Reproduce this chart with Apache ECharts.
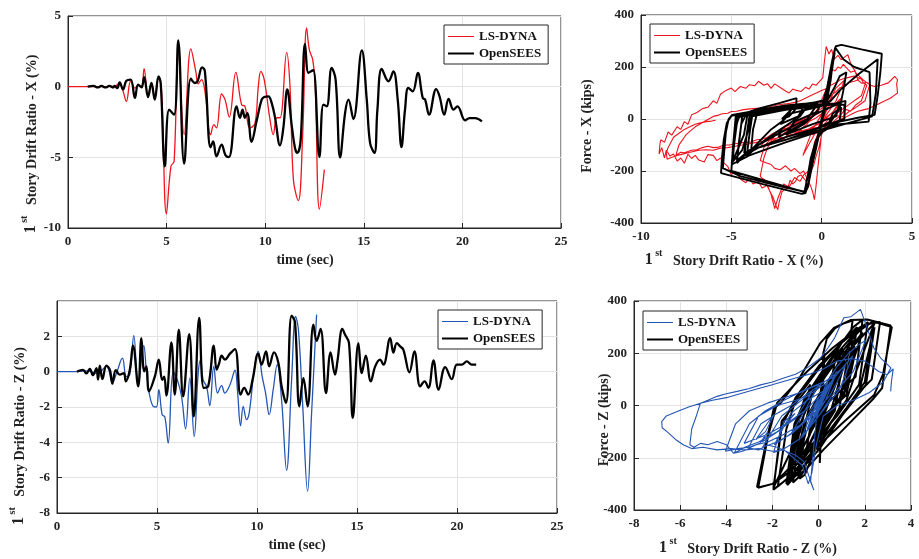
<!DOCTYPE html>
<html><head><meta charset="utf-8">
<script src="https://cdn.jsdelivr.net/npm/echarts@6/dist/echarts.min.js"></script>
<style>html,body{margin:0;padding:0;background:#fff}#c{width:919px;height:559px}</style>
</head><body><div id="c"></div>
<script>
// ---------- DATA ----------
const seriesNames = ['LS-DYNA', 'OpenSEES'];
const timeTicks = [0, 5, 10, 15, 20, 25];

// Panel 1: drift X (%) vs time (s)
const lsDynaDriftX = [[0,0],[1,0],[2,0],[2.4,0.05],[2.62,0.25],[2.79,-0.3],[2.96,-1.04],[3.18,0.4],[3.39,-0.1],[3.56,0.1],[3.73,0.0],[3.86,1.27],[4.06,-0.68],[4.23,0.26],[4.4,-0.85],[4.59,0.68],[4.74,-0.2],[4.99,-9.0],[5.22,-5.64],[5.38,-5.28],[5.59,2.5],[5.89,-3.4],[6.23,2.67],[6.48,1.08],[6.6,0.2],[6.77,0.5],[6.94,-0.3],[7.23,-3.4],[7.4,-2.69],[7.53,-2.92],[7.79,-0.52],[7.96,-0.9],[8.18,-2.15],[8.51,1.01],[8.8,-1.27],[8.97,-1.39],[9.22,-2.92],[9.48,-2.6],[9.65,0.0],[9.78,1.08],[9.95,0.5],[10.24,-2.3],[10.41,-3.4],[10.58,-2.2],[10.75,-2.2],[11.09,2.43],[11.26,-0.05],[11.43,-6.58],[11.68,-8.07],[11.9,-3.4],[12.1,4.15],[12.24,2.6],[12.41,1.91],[12.53,0.3],[12.75,-8.66],[13.0,-5.87]];
const openSeesDriftX = [[1,0],[1.3,0.05],[1.5,-0.05],[1.7,0.05],[1.9,-0.05],[2.1,0.05],[2.3,-0.05],[2.37,0.05],[2.5,-0.1],[2.62,0.3],[2.79,-0.2],[2.96,0.42],[3.18,0.5],[3.39,-0.8],[3.56,0.14],[3.73,-0.05],[3.86,0.68],[4.06,-0.73],[4.23,0.26],[4.4,-0.92],[4.59,0.73],[4.7,0.26],[4.91,-5.64],[5.13,-1.63],[5.38,-1.98],[5.59,3.28],[5.89,-5.45],[6.23,0.57],[6.43,0.26],[6.57,0.38],[6.8,1.37],[6.94,1.1],[7.23,-4.29],[7.36,-3.87],[7.53,-4.93],[7.79,-4.1],[7.99,-4.86],[8.16,-4.98],[8.55,-1.39],[8.72,-2.2],[8.85,-1.63],[8.97,-2.2],[9.09,-1.87],[9.31,-3.9],[9.56,-2.45],[9.82,-0.92],[9.95,-0.73],[10.16,-0.68],[10.33,-1.16],[10.5,-2.2],[10.75,-4.15],[10.92,-2.92],[11.12,-0.2],[11.34,-2.69],[11.51,-4.34],[11.63,-4.69],[11.8,-3.75],[12.02,3.02],[12.19,0.97],[12.31,1.08],[12.44,1.16],[12.75,-4.98],[12.95,-1.27],[13.12,-1.39],[13.37,1.32],[13.57,0.5],[13.8,-5.0],[14.05,-1.87],[14.22,-0.92],[14.47,-2.29],[14.9,2.57],[15.15,-0.92],[15.32,-3.99],[15.54,-4.69],[15.69,-1.63],[15.91,1.25],[16.25,0.38],[16.5,1.08],[16.72,-0.92],[16.91,-4.27],[17.09,-1.63],[17.26,-0.09],[17.48,-0.33],[17.74,0.97],[17.99,-0.8],[18.11,-0.92],[18.31,-1.98],[18.67,-0.17],[18.84,-0.68],[19.08,-1.98],[19.3,-0.87],[19.55,-1.63],[19.75,-1.39],[20.14,-2.38],[20.36,-2.22],[20.65,-2.22],[20.99,-2.45]];

// Panel 3: drift Z (%) vs time (s)
const lsDynaDriftZ = [[0,0],[1,0],[1.5,0.05],[2.0,-0.1],[2.47,0.3],[2.77,-0.6],[3.0,0.0],[3.27,0.77],[3.47,-0.28],[3.64,-0.17],[3.84,2.04],[4.06,-0.74],[4.34,1.47],[4.47,0.02],[4.61,-1.21],[4.81,-1.96],[4.97,-2.0],[5.09,-1.02],[5.26,-2.45],[5.39,-2.55],[5.56,-4.04],[5.81,0.0],[6.02,-0.47],[6.23,-1.42],[6.43,-3.23],[6.64,-0.36],[6.86,-3.66],[7.06,-0.09],[7.18,0.68],[7.31,-0.47],[7.48,-0.85],[7.64,-1.92],[7.84,0.3],[8.03,-1.21],[8.23,-0.79],[8.39,-1.21],[8.65,-0.74],[8.9,0.08],[9.02,-1.02],[9.18,-3.06],[9.31,-1.96],[9.48,-2.72],[9.61,-2.34],[9.85,0.0],[10.06,1.15],[10.26,-0.28],[10.43,-1.21],[10.61,-2.43],[10.81,-1.02],[11.01,0.4],[11.23,-1.6],[11.48,-5.58],[11.73,-0.47],[11.93,3.13],[12.07,2.38],[12.28,-1.79],[12.53,-6.77],[12.73,-2.34],[12.98,3.23]];
const openSeesDriftZ = [[1,0],[1.3,0.1],[1.47,-0.1],[1.64,0.15],[1.8,-0.2],[1.97,0.2],[2.05,-0.45],[2.14,0.34],[2.27,-0.42],[2.47,0.34],[2.64,0.11],[2.77,-0.68],[2.94,0.08],[3.14,-0.17],[3.34,-0.08],[3.44,-0.55],[3.64,0.11],[3.8,1.47],[4.06,-0.83],[4.22,1.9],[4.36,0.02],[4.47,0.3],[4.6,-1.11],[4.89,-0.28],[5.09,0.68],[5.26,-0.47],[5.36,-0.28],[5.47,-1.36],[5.72,1.66],[5.89,-1.3],[6.09,2.38],[6.31,-1.4],[6.61,2.13],[6.84,-2.53],[7.11,3.04],[7.34,-0.92],[7.56,-0.83],[7.84,1.47],[7.98,0.11],[8.11,0.49],[8.23,0.91],[8.4,0.68],[8.65,1.02],[8.9,1.28],[9.18,-1.3],[9.36,-0.92],[9.56,-1.3],[9.78,-0.45],[10.06,1.02],[10.23,0.4],[10.45,1.15],[10.61,0.3],[10.85,1.09],[11.07,0.49],[11.23,-0.83],[11.45,-1.77],[11.73,3.17],[11.9,2.79],[12.12,-1.96],[12.32,-0.36],[12.53,-1.96],[12.82,2.66],[12.98,1.74],[13.18,2.42],[13.45,-1.21],[13.68,1.09],[13.9,-0.17],[14.02,0.58],[14.27,2.42],[14.4,2.1],[14.6,1.62],[14.79,-2.62],[15.07,1.62],[15.24,-0.08],[15.44,0.91],[15.69,-0.55],[15.91,0.3],[16.15,0.68],[16.32,0.4],[16.66,1.9],[16.82,1.08],[16.99,1.62],[17.16,1.43],[17.32,1.24],[17.62,-0.04],[17.87,1.15],[18.16,-0.83],[18.38,-0.55],[18.57,-0.92],[18.82,0.64],[19.08,-1.02],[19.41,0.26],[19.74,-0.42],[19.99,0.4],[20.24,0.4],[20.49,0.58],[20.74,0.4],[20.96,0.4]];

// Panel 2: force X (kips) vs drift X (%)
const lsDynaHystX = [[0,0],[0.3,40],[0.6,90],[0.2,20],[-0.4,-60],[-0.8,-110],[-1.04,-140],[-0.5,-40],[0.2,40],[0.8,120],[1.27,150],[0.8,70],[0.2,10],[-0.4,-90],[-0.7,-200],[-1.0,-215],[-1.2,-240],[-1.5,-225],[-1.8,-262],[-2.1,-250],[-2.4,-300],[-2.6,-345],[-2.8,-290],[-3.0,-255],[-3.3,-265],[-3.5,-240],[-3.8,-250],[-4.0,-228],[-4.2,-245],[-4.46,-233],[-4.8,-200],[-5.0,-215],[-5.2,-182],[-5.4,-170],[-5.6,-150],[-5.8,-160],[-6.0,-140],[-6.3,-137],[-6.5,-165],[-6.8,-158],[-7.0,-140],[-7.2,-152],[-7.4,-135],[-7.6,-170],[-7.8,-150],[-8.0,-162],[-8.2,-135],[-8.4,-142],[-8.6,-120],[-8.7,-150],[-8.85,-110],[-9.0,-135],[-8.95,-95],[-8.9,-80],[-8.7,-90],[-8.5,-50],[-8.3,-62],[-8.0,-30],[-7.8,-40],[-7.6,-10],[-7.4,-20],[-7.2,16],[-6.9,25],[-6.6,40],[-6.3,45],[-6.0,70],[-5.8,60],[-5.6,95],[-5.3,110],[-5.0,119],[-4.8,105],[-4.5,125],[-4.2,118],[-4.0,132],[-3.7,128],[-3.5,145],[-3.2,130],[-3.0,136],[-2.8,118],[-2.6,135],[-2.25,119],[-2.0,108],[-1.8,100],[-1.6,115],[-1.4,110],[-1.13,106],[-0.9,122],[-0.7,115],[-0.5,135],[-0.3,130],[0.06,158],[0.15,220],[0.25,279],[0.35,260],[0.4,250],[0.55,268],[0.7,230],[0.9,245],[1.08,228],[1.3,240],[1.45,247],[1.6,215],[1.7,200],[1.85,185],[2.0,151],[2.15,160],[2.3,140],[2.5,130],[2.2,70],[1.9,55],[1.6,30],[1.3,38],[1.0,10],[0.7,15],[0.4,-20],[0.2,-15],[0.0,-60],[-0.15,-110],[-0.3,-140],[-0.45,-180],[-0.6,-200],[-0.77,-259],[-0.9,-235],[-1.0,-240],[-1.15,-215],[-1.32,-221],[-1.45,-240],[-1.6,-250],[-1.75,-235],[-1.87,-265],[-2.05,-270],[-2.2,-280],[-2.35,-320],[-2.43,-349],[-2.55,-330],[-2.7,-300],[-2.85,-280],[-3.0,-260],[-3.17,-233],[-3.3,-228],[-3.4,-220],[-3.2,-150],[-3.0,-110],[-2.8,-90],[-2.5,-75],[-2.2,-60],[-1.9,-45],[-1.5,-30],[-1.2,-20],[-0.8,0],[-0.5,15],[-0.2,40],[0.1,90],[0.3,120],[0.45,170],[0.6,190],[0.75,185],[0.9,200],[1.05,195],[1.2,210],[1.4,195],[1.6,180],[1.8,185],[2.0,170],[2.15,160],[2.3,150],[2.5,140],[2.67,135],[2.4,70],[2.1,55],[1.8,40],[1.5,28],[1.2,10],[0.9,5],[0.5,-20],[0.2,-30],[0,-50],[-0.1,-120],[-0.2,-180],[-0.3,-250],[-0.4,-310],[-0.5,-280],[-0.6,-260],[-0.8,-230],[-1.0,-200],[-1.2,-210],[-1.5,-190],[-1.7,-200],[-2.0,-180],[-2.3,-195],[-2.6,-190],[-2.8,-175],[-3.0,-170],[-3.2,-165],[-3.4,-160],[-3.2,-110],[-3.0,-90],[-2.69,-70],[-2.8,-85],[-2.92,-100],[-2.6,-60],[-2.3,-40],[-1.9,-35],[-1.5,-20],[-1.0,-5],[-0.52,10],[-0.8,-20],[-1.0,-30],[-1.3,-50],[-1.6,-60],[-1.9,-65],[-2.15,-80],[-1.8,-55],[-1.5,-40],[-1.1,-25],[-0.7,-10],[-0.3,5],[0.0,20],[0.3,35],[0.5,50],[0.75,55],[1.0,70],[0.6,25],[0.3,10],[-0.1,-15],[-0.5,-30],[-0.9,-45],[-1.27,-60],[-1.1,-40],[-1.39,-55],[-1.7,-60],[-2.0,-70],[-2.3,-75],[-2.5,-90],[-2.7,-92],[-2.92,-100],[-2.6,-65],[-2.3,-50],[-1.9,-35],[-1.5,-20],[-1.0,-5],[-0.5,10],[-0.1,25],[0.3,40],[0.7,55],[1.08,80],[0.8,40],[0.5,20],[0.1,-10],[-0.2,-20],[-0.6,-35],[-1.0,-50],[-1.5,-60],[-2.0,-70],[-2.4,-85],[-2.8,-90],[-3.1,-100],[-3.4,-110],[-3.1,-75],[-2.8,-60],[-2.4,-45],[-2.0,-30],[-1.5,-15],[-1.0,0],[-0.5,20],[0.0,40],[0.3,70],[0.5,90],[0.8,105],[1.0,120],[1.3,125],[1.5,140],[1.8,145],[2.0,150],[2.2,138],[2.43,140],[2.2,90],[2.0,80],[1.6,60],[1.2,40],[0.8,20],[0.4,0],[0.0,-30],[-0.4,-35],[-0.8,-40],[-1.2,-48],[-1.6,-50],[-2.0,-58],[-2.4,-60],[-2.8,-68],[-3.0,-70],[-3.3,-78],[-3.6,-80],[-3.9,-88],[-4.2,-90],[-4.5,-92],[-4.8,-95],[-5.1,-100],[-5.4,-100],[-5.7,-108],[-6.0,-110],[-6.3,-105],[-6.6,-110],[-6.9,-118],[-7.2,-120],[-7.4,-125],[-7.6,-130],[-7.8,-128],[-8.07,-140],[-7.9,-100],[-7.8,-90],[-7.6,-70],[-7.5,-60],[-7.2,-42],[-7.0,-30],[-6.8,-22],[-6.5,-10],[-6.2,2],[-6.0,10],[-5.7,15],[-5.5,20],[-5.2,22],[-5.0,29],[-4.7,30],[-4.4,35],[-4.1,38],[-3.8,40],[-3.4,42],[-3.0,45],[-2.7,50],[-2.4,55],[-2.0,58],[-1.7,61],[-1.4,65],[-1.2,70],[-0.9,80],[-0.6,90],[-0.3,100],[0.0,110],[0.3,118],[0.5,130],[0.8,140],[1.0,150],[1.2,155],[1.5,160],[1.8,165],[2.0,160],[2.3,150],[2.5,140],[2.7,130],[2.93,125],[3.1,128],[3.3,130],[3.5,135],[3.67,138],[3.85,150],[4.04,164],[4.15,170],[4.2,151],[4.15,135],[4.2,100],[4.0,90],[3.8,80],[3.5,70],[3.2,60],[2.9,50],[2.6,40],[2.3,35],[2.0,30],[1.7,20],[1.4,10],[1.1,0],[0.8,-10],[0.5,-25],[0.2,-40],[-0.1,-50],[-0.5,-60],[-0.8,-55],[-1.2,-50],[-1.6,-60],[-2.0,-70],[-2.4,-72],[-2.8,-80],[-3.2,-85],[-3.6,-90],[-4.0,-95],[-4.4,-100],[-4.8,-105],[-5.2,-110],[-5.6,-112],[-6.0,-120],[-6.4,-118],[-6.8,-120],[-7.1,-125],[-7.4,-130],[-7.7,-135],[-8.0,-140],[-8.2,-145],[-8.4,-150],[-8.55,-155],[-8.66,-160],[-8.6,-130],[-8.5,-110],[-8.35,-90],[-8.2,-70],[-7.9,-55],[-7.6,-40],[-7.3,-30],[-7.0,-20],[-6.7,-15],[-6.4,-10],[-6.1,-8],[-5.87,-5]];
const openSeesHystX = [[0,0],[0.15,45],[-0.1,-35],[0.3,95],[-0.2,-70],[0.45,150],[0.5,155],[-0.5,-170],[-0.3,-110],[0.2,50],[0.6,200],[0.1,30],[-0.7,-230],[-0.5,-160],[0.3,70],[0.72,255],[0.4,140],[-0.3,-100],[-0.7,-240],[-0.9,-285],[-1.1,-288],[-3.0,-255],[-5.57,-208],[-5.52,-150],[-5.42,-80],[-5.25,-15],[-5.0,12],[-4.9,15],[-3.5,35],[-2.0,52],[-0.5,62],[0.3,75],[0.5,150],[0.65,240],[0.78,280],[1.1,285],[2.2,268],[3.33,251],[3.25,180],[3.1,90],[2.93,16],[2.0,5],[1.0,-10],[0.2,-35],[-0.3,-80],[-0.6,-150],[-0.8,-230],[-0.95,-280],[-2.5,-255],[-4.5,-220],[-5.47,-189],[-5.4,-130],[-5.3,-50],[-5.15,0],[-4.95,16],[-3.0,40],[-1.0,58],[0.3,70],[0.7,120],[1.0,165],[1.37,180],[1.2,110],[1.0,40],[0.5,-10],[-0.5,-45],[-2.0,-80],[-3.5,-110],[-4.29,-130],[-4.1,-40],[-3.87,10],[-4.0,-30],[-4.4,-120],[-4.93,-165],[-4.8,-60],[-4.65,0],[-4.4,15],[-4.1,20],[-4.3,-60],[-4.6,-110],[-4.98,-170],[-4.85,-100],[-4.7,-20],[-4.55,15],[-3.5,40],[-2.3,62],[-1.39,80],[-1.42,40],[-1.8,10],[-2.2,0],[-1.63,40],[-2.2,-10],[-2.8,-40],[-3.5,-90],[-3.9,-120],[-3.8,-40],[-3.6,15],[-2.0,35],[-0.73,55],[-1.2,10],[-2.5,-50],[-3.5,-100],[-4.15,-145],[-4.0,-60],[-3.85,10],[-2.0,35],[-0.2,60],[-0.8,0],[-2.5,-60],[-4.0,-120],[-4.69,-170],[-4.6,-100],[-4.45,-20],[-4.2,15],[-2.0,40],[0.0,55],[0.5,70],[1.0,110],[2.0,170],[3.1,230],[3.0,100],[2.8,10],[1.5,-15],[0.0,-45],[-2.0,-90],[-4.0,-140],[-4.98,-175],[-4.85,-90],[-4.7,10],[-3.0,35],[-0.5,55],[0.8,60],[1.32,70],[1.25,0],[0.5,-30],[-0.2,-60],[-0.5,-150],[-0.75,-260],[-0.9,-282],[-2.5,-250],[-5.0,-200],[-4.9,-100],[-4.75,15],[-2.5,40],[-0.92,55],[-1.3,10],[-2.29,-20],[-1.8,20],[0,50],[0.3,120],[0.6,230],[0.75,275],[1.2,230],[1.8,200],[2.65,180],[2.7,60],[2.6,-10],[1.0,-20],[-1.0,-60],[-2.5,-90],[-3.99,-120],[-4.69,-160],[-4.55,-80],[-4.4,10],[-2.0,40],[0.5,55],[1.26,55],[1.26,0],[0.38,-20],[0.6,20],[1.08,45],[1.0,-5],[0,-30],[-2.0,-70],[-3.5,-110],[-4.27,-140],[-4.15,-60],[-4.0,10],[-2.0,35],[-0.09,50],[-0.33,20],[0.97,60],[0.8,10],[-0.5,-20],[-1.98,-60],[-1.5,-10],[-0.17,30],[-1.0,-20],[-1.98,-60],[-0.87,-10],[-2.38,-70],[-2.2,-40],[-2.45,-60]];

// Panel 4: force Z (kips) vs drift Z (%)
const lsDynaHystZ = [[0,0],[0.2,40],[-0.15,-30],[0.3,70],[-0.3,-60],[0.5,90],[0.2,30],[-0.5,-90],[-0.2,-20],[0.7,110],[0.3,20],[-0.4,-80],[0.77,130],[0.2,20],[-0.28,-60],[0.3,80],[0.8,150],[1.3,200],[1.7,230],[2.04,250],[1.5,130],[0.6,40],[0,-40],[-0.74,-120],[0,30],[0.8,120],[1.47,190],[0.9,60],[0,-40],[-0.7,-120],[-1.21,-150],[-1.6,-170],[-1.96,-180],[-2.0,-175],[-1.5,-60],[-1.02,-30],[-1.6,-90],[-2.45,-140],[-2.2,-100],[-2.55,-145],[-3.0,-160],[-3.5,-165],[-4.04,-175],[-3.6,-70],[-3.0,-20],[-2.2,10],[-1.5,30],[-0.8,50],[0,80],[-0.6,-20],[-1.4,-70],[-2.2,-110],[-2.8,-130],[-3.23,-145],[-2.6,-40],[-1.8,0],[-1.0,20],[-0.36,40],[-1.0,-50],[-1.8,-100],[-2.6,-140],[-3.2,-160],[-3.66,-183],[-3.0,-70],[-2.3,-20],[-1.5,20],[-0.6,60],[0.2,90],[0.68,110],[0,0],[-0.8,-80],[-1.4,-120],[-1.92,-150],[-1.2,-30],[-0.5,20],[0.3,60],[-0.4,-40],[-1.21,-110],[-0.6,-20],[0.08,40],[-0.7,-70],[-1.5,-110],[-2.2,-140],[-2.7,-150],[-3.06,-165],[-2.5,-70],[-1.96,-40],[-2.3,-100],[-2.72,-130],[-2.0,-40],[-1.2,0],[-0.4,50],[0.4,100],[1.15,150],[0.5,40],[-0.3,-40],[-1.2,-110],[-1.8,-140],[-2.43,-160],[-1.6,-40],[-0.6,30],[0.4,90],[-0.1,-50],[-0.35,-292],[-0.21,-324],[-0.64,-215],[-1.0,-190],[-1.37,-177],[-1.8,-160],[-2.23,-151],[-2.6,-170],[-2.96,-164],[-3.3,-175],[-3.68,-183],[-4.0,-150],[-4.4,-138],[-4.8,-150],[-5.12,-145],[-5.4,-160],[-5.58,-150],[-5.5,-90],[-5.3,-40],[-5.12,9],[-4.8,20],[-4.4,35],[-4.0,45],[-3.53,54],[-3.0,65],[-2.52,79],[-2.0,90],[-1.51,105],[-1.0,120],[-0.5,144],[0.08,182],[0.4,220],[0.7,260],[1.09,336],[1.4,340],[1.81,368],[2.1,297],[2.39,220],[2.7,180],[3.13,144],[2.8,90],[2.2,50],[1.5,20],[0.8,0],[0.2,-40],[-0.1,-150],[-0.3,-260],[-0.45,-300],[-0.7,-230],[-1.1,-200],[-1.5,-170],[-2.0,-175],[-2.6,-165],[-3.2,-170],[-3.8,-165],[-4.4,-170],[-5.0,-160],[-5.5,-165],[-5.85,-151],[-6.2,-130],[-6.57,-100],[-6.78,-85],[-6.8,-62],[-6.6,-40],[-6.13,-23],[-5.6,-5],[-5.12,9],[-4.6,20],[-4.0,30],[-3.4,45],[-2.8,60],[-2.2,75],[-1.6,90],[-1.0,105],[-0.4,120],[0.2,140],[0.8,170],[1.4,180],[2.0,170],[2.6,130],[2.97,118],[3.23,140],[3.15,90],[3.12,54]];
const openSeesHystZ = [[0,0],[0.08,40],[-0.05,-30],[0.12,70],[-0.1,-60],[0.15,90],[0.0,-120],[0.2,150],[-0.05,-180],[0.25,200],[0.05,-220],[0.2,200],[0.35,255],[0.7,295],[1.1,315],[1.47,325],[1.15,120],[0.9,20],[0.2,-60],[-0.3,-200],[-0.6,-265],[-0.83,-280],[-0.55,-60],[-0.3,40],[0.4,150],[1.0,240],[1.5,300],[1.9,328],[1.6,110],[0.02,-20],[0.3,40],[-0.2,-150],[-0.7,-260],[-1.11,-295],[-0.8,-70],[-0.28,40],[0.68,160],[0.35,-10],[-0.47,-160],[-0.9,-260],[-1.36,-305],[-1.0,-80],[-0.6,30],[0.3,150],[1.0,240],[1.66,300],[1.3,80],[0.6,-20],[-0.4,-170],[-1.3,-290],[-0.95,-60],[-0.4,50],[0.5,170],[1.5,270],[2.38,324],[2.0,90],[1.2,-10],[0.0,-150],[-0.8,-250],[-1.4,-300],[-1.05,-70],[-0.5,40],[0.6,160],[1.5,260],[2.13,320],[1.75,80],[0.8,-40],[-0.5,-170],[-1.5,-260],[-2.0,-300],[-2.53,-312],[-2.67,-312],[-2.3,-150],[-1.94,-10],[-1.65,9],[-0.8,110],[0.08,240],[0.66,297],[1.38,327],[2.1,329],[3.12,306],[2.75,67],[2.39,28],[1.2,-80],[0.2,-170],[-0.5,-240],[-0.92,-270],[-0.6,-60],[0.2,60],[0.9,170],[1.47,250],[1.1,40],[0.11,-60],[0.6,80],[1.28,200],[0.9,-10],[0.0,-150],[-0.7,-240],[-1.3,-280],[-0.92,-120],[-1.3,-270],[-0.9,-50],[-0.2,60],[0.5,150],[1.02,220],[0.4,20],[1.15,200],[0.3,0],[1.09,190],[0.7,-20],[-0.3,-160],[-1.1,-260],[-1.77,-310],[-1.4,-90],[-1.0,20],[0.0,140],[1.0,240],[1.8,300],[2.4,320],[3.17,300],[2.79,120],[2.4,40],[1.0,-70],[-0.2,-170],[-1.2,-270],[-1.96,-322],[-1.6,-60],[-0.36,80],[-0.8,-100],[-1.96,-315],[-1.6,-80],[-1.0,30],[0.0,150],[1.2,260],[2.0,310],[2.66,320],[2.3,100],[1.74,50],[2.42,300],[2.05,80],[1.0,-40],[0.0,-170],[-1.21,-290],[-0.85,-50],[0.0,80],[1.09,210],[0.7,-10],[-0.17,-120],[0.2,40],[1.2,200],[2.42,315],[1.62,130],[1.2,20],[0.0,-130],[-1.2,-250],[-2.0,-300],[-2.62,-315],[-2.2,-120],[-1.8,10],[-0.5,130],[0.6,220],[1.62,290],[1.2,60],[-0.08,-80],[0.91,120],[0.3,-20],[-0.55,-180],[-0.2,0],[0.8,150],[1.9,280],[1.08,60],[1.62,220],[1.2,40],[-0.04,-60],[1.15,170],[0.5,-30],[-0.83,-200],[-0.55,-100],[-0.92,-210],[-0.5,-40],[0.64,120],[0.2,-10],[-1.02,-220],[-0.6,-60],[0.26,80],[-0.42,-120],[0.4,60],[0.58,100],[0.4,50]];

// ---------- STYLE ----------
const RED = '#f0141e', BLUE = '#2456b4', BLACK = '#000000';
const FONT = 'Liberation Serif';
const AX = '#262626';

const chart = echarts.init(document.getElementById('c'), null, {renderer: 'canvas'});

const grids = [
  {left: 68, top: 16, width: 493, height: 212},
  {left: 641, top: 15, width: 271, height: 208},
  {left: 57, top: 301, width: 500, height: 212},
  {left: 634, top: 301, width: 277, height: 209}
].map(g => Object.assign({show: true, borderColor: AX, borderWidth: 1, backgroundColor: '#fff', containLabel: false}, g));

function axisCommon(extra) {
  return Object.assign({
    type: 'value',
    axisLine: {show: true, onZero: false, lineStyle: {color: AX, width: 1}},
    axisTick: {show: true, inside: true, length: 5, lineStyle: {color: AX}},
    axisLabel: {color: '#222', fontFamily: FONT, fontWeight: 'bold', fontSize: 13, margin: 7},
    splitLine: {show: true, lineStyle: {color: '#e3e3e3', width: 1}}
  }, extra);
}

const xAxes = [
  axisCommon({gridIndex: 0, min: timeTicks[0], max: timeTicks[timeTicks.length - 1], interval: 5}),
  axisCommon({gridIndex: 1, min: -10, max: 5, interval: 5}),
  axisCommon({gridIndex: 2, min: timeTicks[0], max: timeTicks[timeTicks.length - 1], interval: 5}),
  axisCommon({gridIndex: 3, min: -8, max: 4, interval: 2})
];
const yAxes = [
  axisCommon({gridIndex: 0, min: -10, max: 5, interval: 5}),
  axisCommon({gridIndex: 1, min: -400, max: 400, interval: 200}),
  axisCommon({gridIndex: 2, min: -8, max: 4, interval: 2}),
  axisCommon({gridIndex: 3, min: -400, max: 400, interval: 200})
];
yAxes[2].axisLabel = Object.assign({}, yAxes[2].axisLabel, {showMaxLabel: false});

function line(name, data, idx, color, width, smooth, z) {
  return {
    name: name, type: 'line', xAxisIndex: idx, yAxisIndex: idx, data: data,
    showSymbol: false, symbol: 'none', smooth: smooth, z: z,
    lineStyle: {color: color, width: width}, itemStyle: {color: color},
    animation: false, silent: true
  };
}
const nameRed = seriesNames[0], nameBlue = seriesNames[0] + ' ', nameBlack = seriesNames[1];

const series = [
  line(nameRed, lsDynaDriftX, 0, RED, 1.3, 0.4, 2),
  line(nameBlack, openSeesDriftX, 0, BLACK, 2.3, 0.4, 3),
  line(nameRed, lsDynaHystX, 1, RED, 1.1, false, 2),
  line(nameBlack, openSeesHystX, 1, BLACK, 1.9, false, 3),
  line(nameBlue, lsDynaDriftZ, 2, BLUE, 1.3, 0.4, 2),
  line(nameBlack, openSeesDriftZ, 2, BLACK, 2.3, 0.4, 3),
  line(nameBlack, openSeesHystZ, 3, BLACK, 2.0, false, 2),
  line(nameBlue, lsDynaHystZ, 3, BLUE, 1.1, false, 3)
];

function legend(left, top, first) {
  return {
    left: left, top: top, orient: 'vertical', itemWidth: 26, itemHeight: 10, itemGap: 4,
    padding: [5, 7, 4, 4], borderColor: AX, borderWidth: 1, backgroundColor: '#fff',
    selectedMode: false, icon: 'rect',
    textStyle: {fontFamily: FONT, fontWeight: 'bold', fontSize: 13, color: '#111'},
    data: [{name: first, icon: 'path://M0,8 L26,8 L26,9 L0,9 Z'}, {name: nameBlack, icon: 'path://M0,8 L26,8 L26,10 L0,10 Z'}],
    formatter: n => n.trim()
  };
}
const legends = [legend(444, 25, nameRed), legend(650, 24, nameRed), legend(438, 310, nameBlue), legend(643, 311, nameBlue)];

const titleFont = {fontFamily: FONT, fontWeight: 'bold', fill: '#222'};
function driftTitle(axisLetter) {
  return {
    text: '{a|1}{b| st}{c|   Story Drift Ratio - ' + axisLetter + ' (%)}',
    rich: {
      a: Object.assign({fontSize: 16, lineHeight: 20, verticalAlign: 'bottom'}, titleFont),
      b: Object.assign({fontSize: 10, lineHeight: 20, verticalAlign: 'top', padding: [0, 0, 8, 0]}, titleFont),
      c: Object.assign({fontSize: 14, lineHeight: 20, verticalAlign: 'bottom'}, titleFont)
    },
    align: 'center', verticalAlign: 'middle'
  };
}
function plainTitle(t) {
  return Object.assign({text: t, fontSize: 14, align: 'center', verticalAlign: 'middle'}, titleFont);
}
const graphics = [
  {type: 'text', x: 305, y: 260, style: plainTitle('time (sec)')},
  {type: 'text', x: 297, y: 545, style: plainTitle('time (sec)')},
  {type: 'text', x: 734, y: 258, style: driftTitle('X')},
  {type: 'text', x: 748, y: 546, style: driftTitle('Z')},
  {type: 'text', x: 29, y: 144, rotation: Math.PI / 2, style: driftTitle('X')},
  {type: 'text', x: 17, y: 436, rotation: Math.PI / 2, style: driftTitle('Z')},
  {type: 'text', x: 587, y: 126, rotation: Math.PI / 2, style: plainTitle('Force - X (kips)')},
  {type: 'text', x: 604, y: 420, rotation: Math.PI / 2, style: plainTitle('Force - Z (kips)')}
];

chart.setOption({
  animation: false,
  backgroundColor: '#fff',
  grid: grids,
  xAxis: xAxes,
  yAxis: yAxes,
  legend: legends,
  series: series,
  graphic: graphics
});
</script>
</body></html>
